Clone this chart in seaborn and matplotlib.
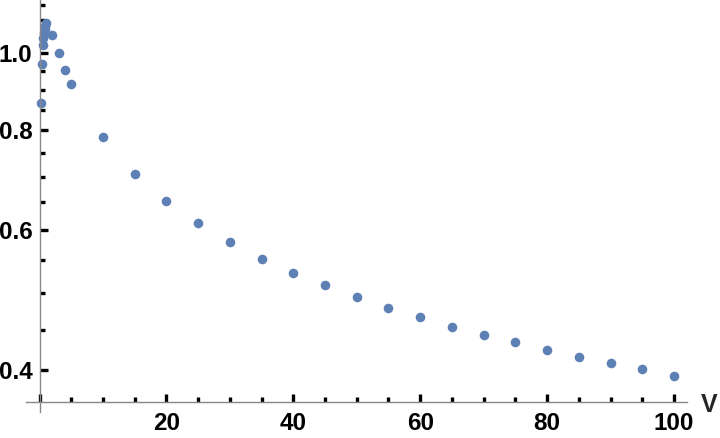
import numpy as np
import pandas as pd
import matplotlib
matplotlib.use("Agg")
import matplotlib.pyplot as plt
import seaborn as sns
from matplotlib.ticker import FixedLocator, NullFormatter

# data
v = [0.3, 0.4, 0.5, 0.6, 0.7, 0.8, 0.9, 1, 2, 3, 4, 5,
     10, 15, 20, 25, 30, 35, 40, 45, 50, 55, 60, 65, 70, 75, 80, 85, 90, 95, 100]
ratio = [0.867, 0.969, 1.023, 1.045, 1.060, 1.072, 1.082, 1.091, 1.053, 1.000, 0.954, 0.914,
         0.784, 0.706, 0.653, 0.612, 0.579, 0.552, 0.530, 0.512, 0.494, 0.479, 0.466,
         0.454, 0.443, 0.434, 0.424, 0.416, 0.409, 0.401, 0.394]

x_major = [0, 20, 40, 60, 80, 100]
x_major_labels = ["", "20", "40", "60", "80", "100"]
x_minor = [5, 10, 15, 25, 30, 35, 45, 50, 55, 65, 70, 75, 85, 90, 95]
y_major = [0.4, 0.6, 0.8, 1.0]
y_major_labels = ["0.4", "0.6", "0.8", "1.0"]
y_minor = [0.45, 0.5, 0.55, 0.65, 0.7, 0.75, 0.85, 0.9, 0.95, 1.05, 1.1, 1.15]

df = pd.DataFrame({"V": v, "ratio": ratio})

sns.set_style("white")
plt.rcParams["font.family"] = ["Liberation Sans", "DejaVu Sans"]

fig = plt.figure(figsize=(7.2, 4.38), dpi=100)
ax = fig.add_axes([26 / 720, 26 / 438, 661 / 720, 412 / 438])

sns.scatterplot(data=df, x="V", y="ratio", ax=ax, color="#5E81B5",
                s=48, linewidth=0, legend=False, clip_on=False)

ax.set_yscale("log")
ax.set_xlim(-2.13, 102.05)
ax.set_ylim(0.3546, 1.1665)

# Mathematica-like axes crossing
for side in ["top", "right"]:
    ax.spines[side].set_visible(False)
ax.spines["left"].set_position(("data", 0))
ax.spines["bottom"].set_position(("data", 0.365))
for side in ["left", "bottom"]:
    ax.spines[side].set_color("#888888")
    ax.spines[side].set_linewidth(1.0)

ax.xaxis.set_major_locator(FixedLocator(x_major))
ax.xaxis.set_minor_locator(FixedLocator(x_minor))
ax.yaxis.set_major_locator(FixedLocator(y_major))
ax.yaxis.set_minor_locator(FixedLocator(y_minor))
ax.set_xticklabels(x_major_labels)
ax.set_yticklabels(y_major_labels)
ax.yaxis.set_minor_formatter(NullFormatter())

ax.tick_params(which="both", bottom=True, left=True, direction="in",
               color="black", labelcolor="black")
ax.tick_params(which="major", length=6, width=2.4, labelsize=17.5, pad=7)
ax.tick_params(which="minor", length=3.5, width=2.4)
ax.tick_params(axis="y", which="major", pad=5)
for lab in ax.get_xticklabels() + ax.get_yticklabels():
    lab.set_fontweight("bold")

ax.set_xlabel("")
ax.set_ylabel("")
fig.text(709 / 720, 1 - 405 / 438, "V", fontsize=18, fontweight="bold",
         ha="center", va="center")

fig.savefig("out.png", dpi=100)
